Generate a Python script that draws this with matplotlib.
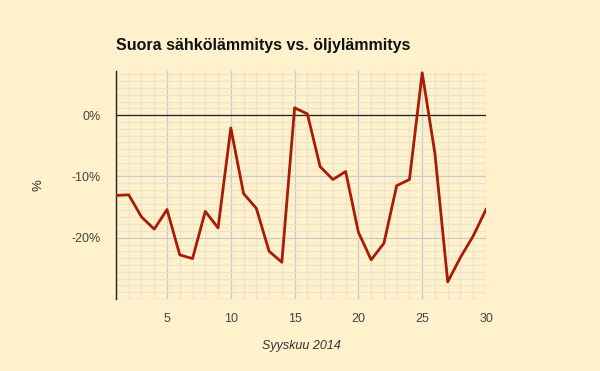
import numpy as np
import matplotlib
matplotlib.use("Agg")
import matplotlib.pyplot as plt
from matplotlib.ticker import MultipleLocator, FuncFormatter

# September 2014, day of month vs. percent difference
days = list(range(1, 31))
pct = [-13.1, -13.0, -16.6, -18.6, -15.4, -22.8, -23.4, -15.7, -18.4, -2.1,
       -12.8, -15.2, -22.2, -24.0, 1.2, 0.2, -8.4, -10.5, -9.2, -19.1,
       -23.6, -20.9, -11.5, -10.5, 6.9, -6.3, -27.2, -23.2, -19.7, -15.4]
title = "Suora sähkölämmitys vs. öljylämmitys"
xlabel = "Syyskuu 2014"
ylabel = "%"

plt.rcParams["font.family"] = ["Liberation Sans", "DejaVu Sans"]
BG = "#fff1cc"
fig = plt.figure(figsize=(6, 3.71), dpi=100, facecolor=BG)
ax = fig.add_axes([0.1933, 0.194, 0.6167, 0.6146], facecolor=BG)

ax.xaxis.set_major_locator(MultipleLocator(5))
ax.xaxis.set_minor_locator(MultipleLocator(1))
ax.yaxis.set_major_locator(MultipleLocator(10))
ax.yaxis.set_minor_locator(MultipleLocator(10 / 9))
ax.grid(which="minor", color="#ece3cc", lw=0.9)
ax.grid(which="major", color="#cacacf", lw=0.9)
ax.set_axisbelow(True)
ax.axhline(0, color="#222222", lw=0.9, zorder=1.5)

ax.plot(days, pct, color="#a81b05", lw=2, zorder=3)

ax.set_xlim(1, 30)
ax.set_ylim(-30, 7.2)
ax.yaxis.set_major_formatter(FuncFormatter(lambda v, p: "" if v < -29 else f"{v:.0f}%"))

for s in ["top", "right", "bottom"]:
    ax.spines[s].set_visible(False)
ax.spines["left"].set_color("#222222")
ax.spines["left"].set_linewidth(1)
ax.tick_params(which="both", length=0)
ax.tick_params(axis="y", pad=11, labelsize=9, labelcolor="#444444")
ax.tick_params(axis="x", pad=10, labelsize=9, labelcolor="#444444")

ax.set_xlabel(xlabel, style="italic", fontsize=9, color="#333333")
ax.xaxis.set_label_coords(0.5, -0.18)
ax.set_ylabel(ylabel, fontsize=9.5, color="#333333")
ax.yaxis.set_label_coords(-0.192, 0.5)
fig.text(0.1933, 0.878, title, fontsize=11.5, fontweight="bold", color="#111111",
         ha="left", va="center")

fig.savefig("out.png", dpi=100, facecolor=BG)
